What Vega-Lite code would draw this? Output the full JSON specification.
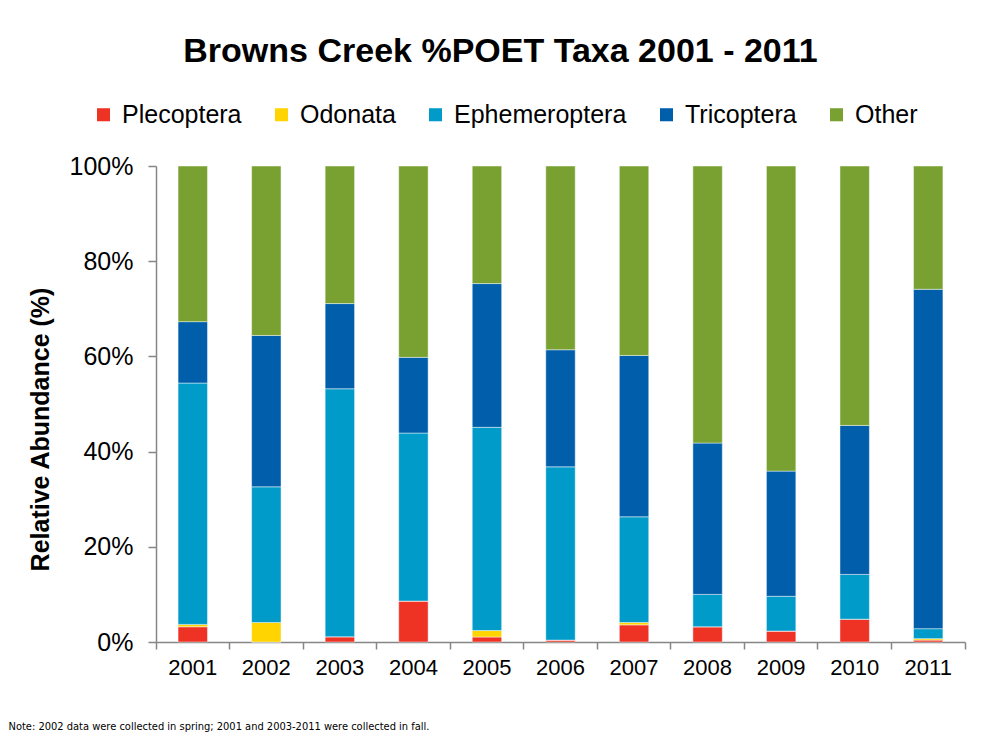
{
  "$schema": "https://vega.github.io/schema/vega-lite/v6.json",
  "width": 809,
  "height": 476,
  "autosize": {"type": "none"},
  "padding": {"left": 156, "top": 166, "right": 20, "bottom": 100},
  "background": "white",
  "title": {
    "text": "Browns Creek %POET Taxa 2001 - 2011",
    "font": "Liberation Sans",
    "fontSize": 34,
    "fontWeight": "bold",
    "color": "black",
    "anchor": "middle",
    "frame": "group",
    "dx": -60,
    "offset": 33
  },
  "datasets": {
    "stackOrder": [
      {"taxon": "Plecoptera", "rank": 1},
      {"taxon": "Odonata", "rank": 2},
      {"taxon": "Ephemeroptera", "rank": 3},
      {"taxon": "Tricoptera", "rank": 4},
      {"taxon": "Other", "rank": 5}
    ]
  },
  "data": {
    "values": [
      {"year": "2001", "taxon": "Plecoptera", "value": 3.2},
      {"year": "2001", "taxon": "Odonata", "value": 0.5},
      {"year": "2001", "taxon": "Ephemeroptera", "value": 50.7},
      {"year": "2001", "taxon": "Tricoptera", "value": 12.9},
      {"year": "2001", "taxon": "Other", "value": 32.7},
      {"year": "2002", "taxon": "Plecoptera", "value": 0},
      {"year": "2002", "taxon": "Odonata", "value": 4.1},
      {"year": "2002", "taxon": "Ephemeroptera", "value": 28.5},
      {"year": "2002", "taxon": "Tricoptera", "value": 31.8},
      {"year": "2002", "taxon": "Other", "value": 35.6},
      {"year": "2003", "taxon": "Plecoptera", "value": 1.1},
      {"year": "2003", "taxon": "Odonata", "value": 0},
      {"year": "2003", "taxon": "Ephemeroptera", "value": 52.1},
      {"year": "2003", "taxon": "Tricoptera", "value": 17.9},
      {"year": "2003", "taxon": "Other", "value": 28.9},
      {"year": "2004", "taxon": "Plecoptera", "value": 8.6},
      {"year": "2004", "taxon": "Odonata", "value": 0},
      {"year": "2004", "taxon": "Ephemeroptera", "value": 35.3},
      {"year": "2004", "taxon": "Tricoptera", "value": 15.9},
      {"year": "2004", "taxon": "Other", "value": 40.2},
      {"year": "2005", "taxon": "Plecoptera", "value": 1.05},
      {"year": "2005", "taxon": "Odonata", "value": 1.35},
      {"year": "2005", "taxon": "Ephemeroptera", "value": 42.7},
      {"year": "2005", "taxon": "Tricoptera", "value": 30.2},
      {"year": "2005", "taxon": "Other", "value": 24.7},
      {"year": "2006", "taxon": "Plecoptera", "value": 0.4},
      {"year": "2006", "taxon": "Odonata", "value": 0},
      {"year": "2006", "taxon": "Ephemeroptera", "value": 36.4},
      {"year": "2006", "taxon": "Tricoptera", "value": 24.6},
      {"year": "2006", "taxon": "Other", "value": 38.6},
      {"year": "2007", "taxon": "Plecoptera", "value": 3.6},
      {"year": "2007", "taxon": "Odonata", "value": 0.5},
      {"year": "2007", "taxon": "Ephemeroptera", "value": 22.2},
      {"year": "2007", "taxon": "Tricoptera", "value": 33.9},
      {"year": "2007", "taxon": "Other", "value": 39.8},
      {"year": "2008", "taxon": "Plecoptera", "value": 3.2},
      {"year": "2008", "taxon": "Odonata", "value": 0},
      {"year": "2008", "taxon": "Ephemeroptera", "value": 6.8},
      {"year": "2008", "taxon": "Tricoptera", "value": 31.8},
      {"year": "2008", "taxon": "Other", "value": 58.2},
      {"year": "2009", "taxon": "Plecoptera", "value": 2.3},
      {"year": "2009", "taxon": "Odonata", "value": 0},
      {"year": "2009", "taxon": "Ephemeroptera", "value": 7.3},
      {"year": "2009", "taxon": "Tricoptera", "value": 26.3},
      {"year": "2009", "taxon": "Other", "value": 64.1},
      {"year": "2010", "taxon": "Plecoptera", "value": 4.8},
      {"year": "2010", "taxon": "Odonata", "value": 0},
      {"year": "2010", "taxon": "Ephemeroptera", "value": 9.4},
      {"year": "2010", "taxon": "Tricoptera", "value": 31.3},
      {"year": "2010", "taxon": "Other", "value": 54.5},
      {"year": "2011", "taxon": "Plecoptera", "value": 0.4},
      {"year": "2011", "taxon": "Odonata", "value": 0.3},
      {"year": "2011", "taxon": "Ephemeroptera", "value": 2.1},
      {"year": "2011", "taxon": "Tricoptera", "value": 71.3},
      {"year": "2011", "taxon": "Other", "value": 25.9}
    ]
  },
  "transform": [
    {"lookup": "taxon", "from": {"data": {"name": "stackOrder"}, "key": "taxon", "fields": ["rank"]}}
  ],
  "mark": {
    "type": "bar",
    "width": {"band": 0.4},
    "stroke": "#ffffff",
    "strokeOpacity": 0.45,
    "strokeWidth": 1
  },
  "encoding": {
    "x": {
      "field": "year",
      "type": "ordinal",
      "scale": {"paddingInner": 0, "paddingOuter": 0},
      "axis": {
        "title": "Note: 2002 data were collected in spring; 2001 and 2003-2011 were collected in fall.",
        "titleFont": "Liberation Sans Narrow, DejaVu Sans Condensed, Roboto Condensed, Liberation Sans",
        "titleFontSize": 11,
        "titleFontWeight": "normal",
        "titleColor": "black",
        "titleAngle": 0,
        "titleAlign": "left",
        "titleBaseline": "alphabetic",
        "titleX": -148,
        "titleY": 87,
        "labelAngle": 0,
        "labelFont": "Liberation Sans",
        "labelFontSize": 22,
        "labelColor": "black",
        "labelPadding": 8,
        "bandPosition": 1,
        "tickExtra": true,
        "labelOffset": 0,
        "tickSize": 7,
        "tickColor": "#868686",
        "domainColor": "#868686",
        "domainWidth": 1.5,
        "tickWidth": 1.5
      }
    },
    "y": {
      "field": "value",
      "type": "quantitative",
      "stack": "normalize",
      "axis": {
        "title": "Relative Abundance (%)",
        "titleFont": "Liberation Sans",
        "titleFontSize": 25,
        "titleFontWeight": "bold",
        "titleColor": "black",
        "titleX": -116,
        "titleY": 263,
        "titleBaseline": "middle",
        "titleAlign": "center",
        "titleAngle": -90,
        "format": ".0%",
        "values": [0, 0.2, 0.4, 0.6, 0.8, 1],
        "grid": false,
        "labelFont": "Liberation Sans",
        "labelFontSize": 25,
        "labelColor": "black",
        "labelPadding": 15,
        "tickSize": 8,
        "tickColor": "#868686",
        "domainColor": "#868686",
        "domainWidth": 1.5,
        "tickWidth": 1.5
      }
    },
    "color": {
      "field": "taxon",
      "type": "nominal",
      "sort": ["Plecoptera", "Odonata", "Ephemeroptera", "Tricoptera", "Other"],
      "scale": {
        "domain": ["Plecoptera", "Odonata", "Ephemeroptera", "Tricoptera", "Other"],
        "range": ["#EE3224", "#FFD400", "#009BC8", "#005EAB", "#78A132"]
      },
      "legend": {
        "title": null,
        "orient": "none",
        "legendX": -65,
        "legendY": -64,
        "direction": "horizontal",
        "columns": 5,
        "columnPadding": 27,
        "symbolType": "square",
        "symbolSize": 170,
        "symbolStrokeWidth": 0,
        "labelFont": "Liberation Sans",
        "labelFontSize": 25,
        "labelLimit": 400,
        "labelColor": "black",
        "labelOffset": 6
      }
    },
    "order": {"field": "rank", "type": "quantitative", "sort": "ascending"}
  },
  "config": {"view": {"stroke": null}}
}
